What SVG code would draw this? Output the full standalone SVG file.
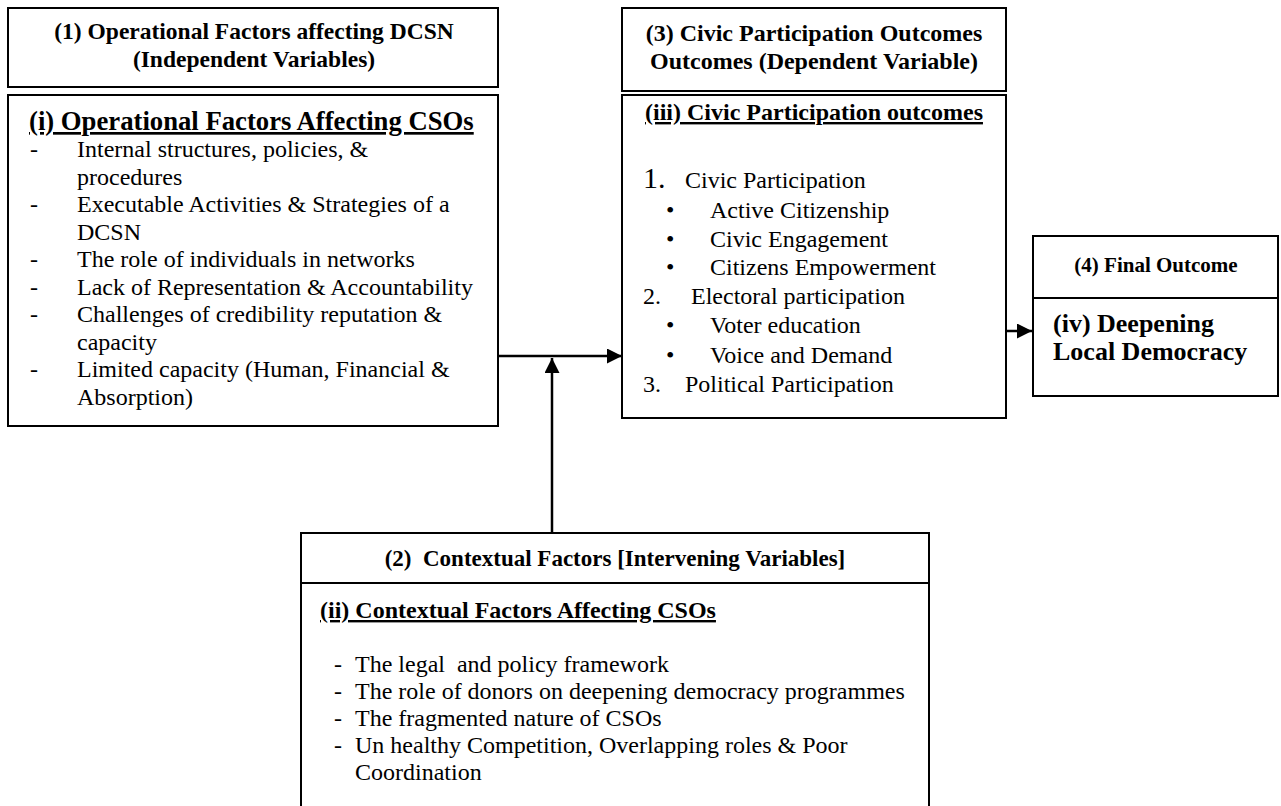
<svg xmlns="http://www.w3.org/2000/svg" width="1281" height="806" viewBox="0 0 1281 806">
<defs>
<style>
.box{fill:#fff;stroke:#000;stroke-width:2}
.hd{font-family:"Liberation Serif","Times New Roman",serif;font-weight:bold;font-size:23.5px;fill:#000}
.tt{font-family:"Liberation Serif","Times New Roman",serif;font-weight:bold;font-size:26.7px;fill:#000}
.tu{font-family:"Liberation Serif","Times New Roman",serif;font-weight:bold;font-size:24px;fill:#000;text-decoration:underline}
.tx{font-family:"Liberation Serif","Times New Roman",serif;font-size:24px;fill:#000}
.cn{fill:none;stroke:#000;stroke-width:2.5}
</style>
<marker id="ah" viewBox="0 0 10 10" refX="10" refY="5" markerWidth="6" markerHeight="6" markerUnits="strokeWidth" orient="auto">
<path d="M0,0 L10,5 L0,10 z" fill="#000"/>
</marker>
</defs>
<rect width="1281" height="806" fill="#fff"/>

<g id="connectors">
<line class="cn" x1="498" y1="356" x2="622" y2="356" marker-end="url(#ah)"/>
<line class="cn" x1="552" y1="533" x2="552" y2="358" marker-end="url(#ah)"/>
<line class="cn" x1="1006" y1="331" x2="1032" y2="331" marker-end="url(#ah)"/>
</g>

<g id="node1-header">
<rect class="box" x="8" y="8" width="490" height="79"/>
<text class="hd" x="254" y="39" text-anchor="middle">(1) Operational Factors affecting DCSN</text>
<text class="hd" x="254" y="67" text-anchor="middle">(Independent Variables)</text>
</g>

<g id="node1-body">
<rect class="box" x="8" y="95" width="490" height="331"/>
<text class="tt" x="29" y="130" style="text-decoration:underline">(i) Operational Factors Affecting CSOs</text>
<g class="tx">
<text x="30" y="157">-</text><text x="77" y="157">Internal structures, policies, &amp;</text>
<text x="77" y="184.5">procedures</text>
<text x="30" y="212">-</text><text x="77" y="212">Executable Activities &amp; Strategies of a</text>
<text x="77" y="239.5">DCSN</text>
<text x="30" y="267">-</text><text x="77" y="267">The role of individuals in networks</text>
<text x="30" y="294.5">-</text><text x="77" y="294.5">Lack of Representation &amp; Accountability</text>
<text x="30" y="322">-</text><text x="77" y="322">Challenges of credibility reputation &amp;</text>
<text x="77" y="349.5">capacity</text>
<text x="30" y="377">-</text><text x="77" y="377">Limited capacity (Human, Financial &amp;</text>
<text x="77" y="404.5">Absorption)</text>
</g>
</g>

<g id="node3-header">
<rect class="box" x="622" y="8" width="384" height="83"/>
<text class="hd" x="814" y="41" text-anchor="middle" style="font-size:24px">(3) Civic Participation Outcomes</text>
<text class="hd" x="814" y="69" text-anchor="middle" style="font-size:24px">Outcomes (Dependent Variable)</text>
</g>

<g id="node3-body">
<rect class="box" x="622" y="95" width="384" height="323"/>
<text class="tu" x="814" y="120" text-anchor="middle">(iii) Civic Participation outcomes</text>
<g class="tx">
<text x="643" y="188" style="font-size:30px">1.</text><text x="685" y="188">Civic Participation</text>
<text x="666" y="218">•</text><text x="710" y="218">Active Citizenship</text>
<text x="666" y="247">•</text><text x="710" y="247">Civic Engagement</text>
<text x="666" y="275">•</text><text x="710" y="275">Citizens Empowerment</text>
<text x="643" y="304">2.</text><text x="691" y="304">Electoral participation</text>
<text x="666" y="333">•</text><text x="710" y="333">Voter education</text>
<text x="666" y="363">•</text><text x="710" y="363">Voice and Demand</text>
<text x="643" y="392">3.</text><text x="685" y="392">Political Participation</text>
</g>
</g>

<g id="node4">
<rect class="box" x="1033" y="236" width="245" height="62"/>
<rect class="box" x="1033" y="298" width="245" height="98"/>
<text class="hd" x="1156" y="272" text-anchor="middle" style="font-size:21px">(4) Final Outcome</text>
<text class="tt" x="1053" y="332" style="font-size:26px">(iv) Deepening</text>
<text class="tt" x="1053" y="360" style="font-size:26px">Local Democracy</text>
</g>

<g id="node2">
<rect class="box" x="301" y="533" width="628" height="50"/>
<rect class="box" x="301" y="583" width="628" height="240"/>
<text class="hd" x="615" y="566" text-anchor="middle" style="font-size:23px" xml:space="preserve">(2)  Contextual Factors [Intervening Variables]</text>
<text class="tu" x="320" y="618">(ii) Contextual Factors Affecting CSOs</text>
<g class="tx">
<text x="334" y="672">-</text><text x="355" y="672" xml:space="preserve">The legal  and policy framework</text>
<text x="334" y="699">-</text><text x="355" y="699">The role of donors on deepening democracy programmes</text>
<text x="334" y="726">-</text><text x="355" y="726">The fragmented nature of CSOs</text>
<text x="334" y="753">-</text><text x="355" y="753">Un healthy Competition, Overlapping roles &amp; Poor</text>
<text x="355" y="780">Coordination</text>
</g>
</g>
</svg>
